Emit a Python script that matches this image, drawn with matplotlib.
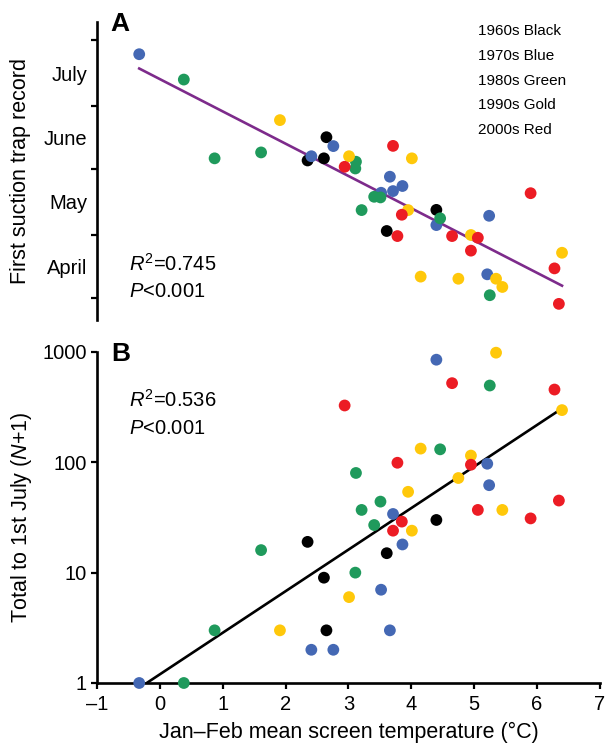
"""
Aphid first-flight date and abundance against winter temperature.
"""

import numpy as np
import matplotlib
matplotlib.use("Agg")
import matplotlib.pyplot as plt

plt.rcParams["font.family"] = ["Liberation Sans", "DejaVu Sans"]
plt.rcParams["mathtext.fontset"] = "custom"
plt.rcParams["mathtext.rm"] = "Liberation Sans"
plt.rcParams["mathtext.it"] = "Liberation Sans:italic"

# Jan-Feb mean temperature (deg C), day of year of first trap record, N+1 to 1 July
temp_1960s = [2.35, 2.61, 2.65, 3.61, 4.40]
day_1960s = [156.1, 157.1, 167.1, 122.7, 132.7]
count_1960s = [19, 9, 3, 15, 30]

temp_1970s = [-0.33, 2.41, 2.76, 3.52, 3.66, 3.71, 3.86, 4.40, 5.21, 5.24]
day_1970s = [206.4, 158.1, 162.9, 140.8, 148.4, 141.6, 144.0, 125.5, 102.2, 129.9]
count_1970s = [1, 2, 2, 7, 3, 34, 18, 850, 97, 62]

temp_1980s = [0.38, 0.87, 1.61, 3.11, 3.12, 3.21, 3.41, 3.51, 4.46, 5.25]
day_1980s = [194.4, 157.1, 159.9, 152.3, 155.5, 132.6, 138.9, 138.6, 128.7, 92.3]
count_1980s = [1, 3, 16, 10, 80, 37, 27, 44, 131, 496]

temp_1990s = [1.91, 3.01, 3.95, 4.01, 4.15, 4.75, 4.95, 5.35, 5.45, 6.40]
day_1990s = [175.2, 158.1, 132.6, 157.1, 101.1, 100.1, 120.8, 100.1, 96.2, 112.4]
count_1990s = [3, 6, 54, 24, 133, 72, 115, 984, 37, 297]

temp_2000s = [2.94, 3.71, 3.78, 3.85, 4.65, 4.95, 5.06, 5.90, 6.28, 6.35]
day_2000s = [153.1, 163.0, 120.3, 130.4, 120.3, 113.4, 119.5, 140.6, 105.0, 88.2]
count_2000s = [327, 24, 99, 29, 521, 95, 37, 31, 456, 45]

decade_labels = ["1960s Black", "1970s Blue", "1980s Green", "1990s Gold", "2000s Red"]
decade_colors = ["#000000", "#4468B4", "#1F9A5C", "#FFC80A", "#EC1C24"]

month_edges = [91, 121, 152, 182, 213]
month_names = ["April", "May", "June", "July"]
count_ticks = [1, 10, 100, 1000]

r2_a, r2_b = "0.745", "0.536"

temps = [temp_1960s, temp_1970s, temp_1980s, temp_1990s, temp_2000s]
days = [day_1960s, day_1970s, day_1980s, day_1990s, day_2000s]
counts = [count_1960s, count_1970s, count_1980s, count_1990s, count_2000s]

all_temp = np.concatenate(temps)
all_day = np.concatenate(days)
all_count = np.concatenate(counts).astype(float)

fig = plt.figure(figsize=(6.07, 7.44), dpi=100)
ax_a = fig.add_axes([0.160, 0.570, 0.828, 0.400])
ax_b = fig.add_axes([0.160, 0.082, 0.828, 0.445])

marker_size = 72
text_size = 14.5

# ---- panel A
slope, intercept = np.polyfit(all_temp, all_day, 1)
line_x = np.array([all_temp.min(), all_temp.max()])
ax_a.plot(line_x, intercept + slope * line_x, color="#7D2B8B", linewidth=1.9, zorder=2)
for t, d, c in zip(temps, days, decade_colors):
    ax_a.scatter(t, d, s=marker_size, color=c, edgecolors="none", zorder=3)

ax_a.set_xlim(-1, 7)
ax_a.set_ylim(80.6, 221.5)
ax_a.set_yticks(month_edges)
ax_a.set_yticklabels([])
mids = [(a + b) / 2 for a, b in zip(month_edges[:-1], month_edges[1:])]
ax_a.set_yticks(mids, minor=True)
ax_a.set_yticklabels(month_names, minor=True, fontsize=text_size)
ax_a.tick_params(axis="y", which="major", length=4, width=1.6, direction="out")
ax_a.tick_params(axis="y", which="minor", length=0, pad=7)
ax_a.set_xticks([])
for side in ["top", "right", "bottom"]:
    ax_a.spines[side].set_visible(False)
ax_a.spines["left"].set_linewidth(1.9)
ax_a.set_ylabel("First suction trap record", fontsize=15.5, labelpad=9)

ax_a.text(0.026, 0.995, "A", transform=ax_a.transAxes, fontsize=19,
          fontweight="bold", ha="left", va="center")
ax_a.text(0.063, 0.188, "$\\mathit{R}^2$=" + r2_a, transform=ax_a.transAxes,
          fontsize=text_size, ha="left", va="center")
ax_a.text(0.063, 0.094, "$\\mathit{P}$<0.001", transform=ax_a.transAxes,
          fontsize=text_size, ha="left", va="center")
for i, lab in enumerate(decade_labels):
    ax_a.text(0.757, 0.970 - i * 0.083, lab, transform=ax_a.transAxes,
              fontsize=11, ha="left", va="center")

# ---- panel B
slope_b, intercept_b = np.polyfit(all_temp, np.log10(all_count), 1)
ax_b.plot(line_x, 10 ** (intercept_b + slope_b * line_x), color="black",
          linewidth=1.9, zorder=2)
for t, n, c in zip(temps, counts, decade_colors):
    ax_b.scatter(t, n, s=marker_size, color=c, edgecolors="none", zorder=3,
                 clip_on=False)

ax_b.set_yscale("log")
ax_b.set_xlim(-1, 7)
ax_b.set_ylim(1, 1000)
ax_b.set_yticks(count_ticks)
ax_b.set_yticklabels([str(v) for v in count_ticks], fontsize=text_size)
ax_b.yaxis.set_minor_locator(matplotlib.ticker.NullLocator())
ax_b.set_xticks(range(-1, 8))
ax_b.set_xticklabels(["\u2013" + str(-v) if v < 0 else str(v) for v in range(-1, 8)],
                     fontsize=text_size)
ax_b.tick_params(length=4.5, width=1.6, direction="out", pad=3)
ax_b.tick_params(axis="x", pad=4.5)
for side in ["top", "right"]:
    ax_b.spines[side].set_visible(False)
ax_b.spines["left"].set_linewidth(1.9)
ax_b.spines["bottom"].set_linewidth(1.9)
ax_b.set_ylabel("Total to 1st July ($\\mathit{N}$+1)", fontsize=15.5, labelpad=6)
ax_b.set_xlabel("Jan\u2013Feb mean screen temperature (\u00b0C)", fontsize=15.5,
                labelpad=5)

ax_b.text(0.028, 0.994, "B", transform=ax_b.transAxes, fontsize=19,
          fontweight="bold", ha="left", va="center")
ax_b.text(0.063, 0.856, "$\\mathit{R}^2$=" + r2_b, transform=ax_b.transAxes,
          fontsize=text_size, ha="left", va="center")
ax_b.text(0.063, 0.768, "$\\mathit{P}$<0.001", transform=ax_b.transAxes,
          fontsize=text_size, ha="left", va="center")

fig.savefig("out.png", dpi=100)
plt.close(fig)
